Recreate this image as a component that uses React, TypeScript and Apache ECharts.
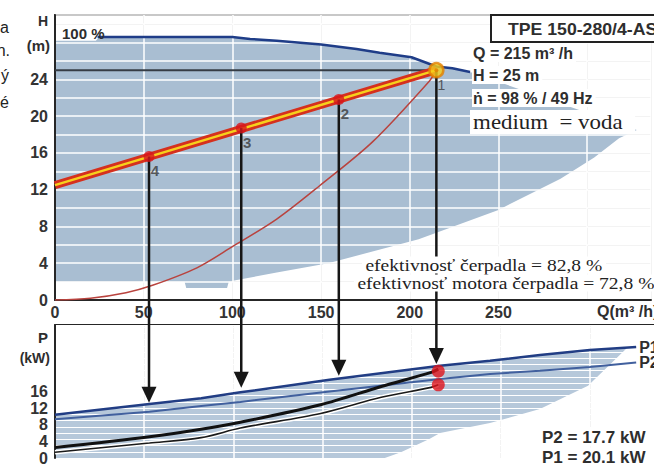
import React, { useEffect, useRef } from 'react';
import * as echarts from 'echarts';

// ---------- tick labels ----------
const qTickLabels = [0, 50, 100, 150, 200, 250];
const hTickLabels = [0, 4, 8, 12, 16, 20, 24];
const pTickLabels = [0, 4, 8, 12, 16];

// ---------- H–Q diagram ----------
const curve100 = [[24, 28.6], [100, 28.6], [110, 28.4], [125, 28.2], [150, 27.8], [170, 27.3], [183, 26.9], [201, 26.4], [215, 25.4], [224, 25.2], [234, 24.8]];
const rangeTopEdge = [[0, 28.2], [23, 28.2], [25, 28.6], [100, 28.6], [110, 28.4], [125, 28.2], [150, 27.8], [170, 27.3], [183, 26.9], [201, 26.4], [215, 25.4], [224, 25.2], [234, 24.8]];
const rangeBottomEdge = [[328, 18.5], [318, 17.6], [304, 15.5], [285, 13.2], [250, 9.8], [205, 6.6], [154, 4.0], [125, 3.0], [98, 2.0], [97, 1.3], [74, 1.3], [73, 2.0], [0, 2.0]];
const systemCurve = [[0, 12.5], [215, 25]];
const parabola = [[0, 0], [20, 0.2], [40, 0.8], [55, 1.6], [80, 3.5], [100, 5.8], [125, 8.8], [149, 12.4], [179, 17.2], [211, 23.8], [215, 25]];
const headLine = [[0, 25], [215, 25]];
const dutyNames = ['4', '3', '2', '1'];
const dutyQ = [53, 105, 160, 215];
const dutyH = [15.6, 18.7, 21.8, 25.0];

// ---------- P–Q diagram ----------
const p1Curve = [[0, 10.4], [53, 13.0], [82, 14.4], [104, 15.8], [154, 18.8], [216, 22.2], [244, 23.4], [272, 24.8], [300, 26.0], [326, 26.7]];
const p2Curve = [[0, 9.3], [53, 11.1], [82, 12.5], [104, 13.5], [154, 16.0], [216, 19.0], [244, 20.2], [272, 21.0], [300, 21.9], [326, 23.0]];
const powerUpper = [[0, 2.5], [53, 5.1], [82, 6.9], [104, 8.6], [149, 12.8], [183, 17.2], [211, 20.6], [215, 21.4]];
const powerLower = [[0, 1.4], [53, 3.6], [82, 4.9], [104, 7.2], [149, 10.7], [183, 14.6], [211, 17.0], [215, 17.6]];
const powerRangeEdge = [[321, 26.5], [299, 17.4], [272, 11.8], [244, 8.4], [216, 6.0], [210, 4.6], [194, 1.4], [185, 0], [0, 0]];
const dutyP = [20.9, 17.6];
const arrowTipP = [13.3, 16.9, 19.8, 22.6];

const SANS = '"Liberation Sans", Arial, sans-serif';
const SERIF = '"Liberation Serif", "Times New Roman", serif';
const LABEL_COLOR = '#333333';
const FILL_TOP = '#a9bed2';
const FILL_BOTTOM = '#b6c8da';
const GRAY = '#d0d0d0';

function polySeries(pts: number[][], xi: number, yi: number, color: string) {
  return {
    type: 'custom',
    xAxisIndex: xi,
    yAxisIndex: yi,
    z: 1,
    silent: true,
    data: [[0, 0]],
    renderItem: (_p: any, api: any) => ({
      type: 'polygon',
      shape: { points: pts.map((p) => api.coord(p)) },
      style: { fill: color },
    }),
  };
}

function lineSeries(data: number[][], xi: number, yi: number, color: string, width: number, z: number, extra: any = {}) {
  return {
    type: 'line',
    xAxisIndex: xi,
    yAxisIndex: yi,
    data,
    symbol: 'none',
    z,
    silent: true,
    lineStyle: { color, width },
    ...extra,
  };
}

function txt(text: string, x: number, y: number, o: any = {}) {
  const align = o.align ?? 'left';
  return {
    type: 'text',
    x,
    y,
    z: o.z ?? 20,
    scaleX: o.scaleX ?? 1,
    style: {
      text,
      fontSize: o.size ?? 16,
      fontWeight: o.weight ?? 'bold',
      fontFamily: o.family ?? SANS,
      fill: o.color ?? '#2e2e2e',
      align,
      verticalAlign: 'middle',
      textAlign: align,
      textVerticalAlign: 'middle',
      backgroundColor: o.bg,
      padding: o.pad,
    },
  };
}

const axisLabelStyle = { fontSize: 16, fontWeight: 'bold', color: LABEL_COLOR, fontFamily: SANS };
const blackLine = { show: true, onZero: false, lineStyle: { color: '#262626', width: 2 } };
const noLine = { show: false };

function buildOption() {
  const xCommon = { type: 'value', min: 0, max: 336, interval: 50, axisTick: { show: false } };
  return {
    animation: false,
    backgroundColor: '#ffffff',
    grid: [
      { left: 55, right: 0, top: 15, bottom: 166 },
      { left: 55, right: 0, top: 325, bottom: 3 },
    ],
    xAxis: [
      {
        ...xCommon, gridIndex: 0, position: 'bottom', z: 2, axisLine: blackLine,
        axisLabel: { ...axisLabelStyle, margin: 4, formatter: (v: number) => (qTickLabels.includes(v) ? String(v) : '') },
        splitLine: { show: true, lineStyle: { color: '#ffffff', width: 1.5 } },
      },
      {
        ...xCommon, gridIndex: 0, position: 'top', z: 0, axisLine: blackLine, axisLabel: { show: false },
        splitLine: { show: true, lineStyle: { color: GRAY, width: 1 } },
      },
      {
        ...xCommon, gridIndex: 1, position: 'bottom', z: 2, axisLine: noLine, axisLabel: { show: false },
        splitLine: { show: true, lineStyle: { color: '#ffffff', width: 1.5 } },
      },
      {
        ...xCommon, gridIndex: 1, position: 'top', z: 0, axisLine: blackLine, axisLabel: { show: false },
        splitLine: { show: true, lineStyle: { color: GRAY, width: 1 } },
      },
    ],
    yAxis: [
      {
        type: 'value', gridIndex: 0, min: 0, max: 31, interval: 2, position: 'left', z: 2,
        axisLine: blackLine, axisTick: { show: false },
        axisLabel: { ...axisLabelStyle, margin: 7, formatter: (v: number) => (hTickLabels.includes(v) ? String(v) : '') },
        splitLine: { show: true, lineStyle: { color: '#ffffff', width: 1.5 } },
      },
      {
        type: 'value', gridIndex: 0, min: 0, max: 31, interval: 2, position: 'right', z: 0,
        axisLine: noLine, axisTick: { show: false }, axisLabel: { show: false },
        splitLine: { show: true, lineStyle: { color: GRAY, width: 1 } },
      },
      {
        type: 'value', gridIndex: 1, min: 0, max: 32, interval: 4, position: 'left', z: 2,
        axisLine: blackLine, axisTick: { show: false },
        axisLabel: { ...axisLabelStyle, margin: 7, formatter: (v: number) => (pTickLabels.includes(v) ? String(v) : '') },
        splitLine: { show: false },
      },
      {
        type: 'value', gridIndex: 1, min: 0, max: 32, interval: 1.5, position: 'right', z: 2,
        axisLine: noLine, axisTick: { show: false }, axisLabel: { show: false },
        splitLine: { show: true, lineStyle: { color: '#ffffff', width: 1.2 } },
      },
      {
        type: 'value', gridIndex: 1, min: 0, max: 32, interval: 1.5, position: 'right', z: 0,
        axisLine: noLine, axisTick: { show: false }, axisLabel: { show: false },
        splitLine: { show: true, lineStyle: { color: GRAY, width: 1 } },
      },
    ],
    series: [
      polySeries([...rangeTopEdge, ...rangeBottomEdge], 0, 0, FILL_TOP),
      polySeries([...p1Curve.filter(([q]) => q < 321), ...powerRangeEdge], 2, 2, FILL_BOTTOM),
      lineSeries(curve100, 0, 0, '#1f3d88', 2.5, 3),
      lineSeries(headLine, 0, 0, '#363c44', 2, 3),
      lineSeries(parabola, 0, 0, '#b9433e', 1.5, 3, { smooth: 0.3 }),
      lineSeries(systemCurve, 0, 0, '#d5301e', 8, 4),
      lineSeries(systemCurve, 0, 0, '#f6d01c', 2.5, 5),
      {
        type: 'scatter', xAxisIndex: 0, yAxisIndex: 0, z: 7, silent: true,
        symbol: 'circle', symbolSize: 11,
        itemStyle: { color: '#d8151b' },
        data: dutyQ.slice(0, 3).map((q, i) => ({ value: [q, dutyH[i]], name: dutyNames[i] })),
        label: { show: true, formatter: '{b}', position: 'bottom', distance: 1, offset: [6, 0], fontSize: 15, fontWeight: 'bold', color: '#3a3a3a', fontFamily: SANS },
      },
      {
        type: 'scatter', xAxisIndex: 0, yAxisIndex: 0, z: 8, silent: true,
        symbol: 'circle', symbolSize: 14,
        itemStyle: { color: '#f5cd1a', borderColor: '#e27f00', borderWidth: 2.5 },
        data: [{ value: [dutyQ[3], dutyH[3]], name: dutyNames[3] }],
        label: { show: true, formatter: '{b}', position: 'bottom', distance: 0, offset: [5, 0], fontSize: 14, fontWeight: 'normal', color: '#3a3a3a', fontFamily: SANS },
      },
      {
        type: 'scatter', xAxisIndex: 0, yAxisIndex: 0, z: 9, silent: true,
        symbol: 'circle', symbolSize: 4,
        itemStyle: { color: '#e27f00' },
        data: [[dutyQ[3], dutyH[3]]],
      },
      lineSeries(p1Curve, 2, 2, '#213d84', 2.5, 3, {
        endLabel: { show: true, formatter: 'P1', distance: 3, fontSize: 16, fontWeight: 'bold', color: '#2e2e2e', fontFamily: SANS },
      }),
      lineSeries(p2Curve, 2, 2, '#41609e', 2, 3, {
        endLabel: { show: true, formatter: 'P2', distance: 3, fontSize: 16, fontWeight: 'bold', color: '#2e2e2e', fontFamily: SANS },
      }),
      lineSeries(powerLower, 2, 2, '#ffffff', 4.5, 3, { smooth: 0.3 }),
      lineSeries(powerLower, 2, 2, '#1a1a1a', 1.6, 4, { smooth: 0.3 }),
      lineSeries(powerUpper, 2, 2, '#111111', 3, 4, { smooth: 0.3 }),
      {
        type: 'scatter', xAxisIndex: 2, yAxisIndex: 2, z: 8, silent: true,
        symbol: 'circle', symbolSize: 13,
        itemStyle: { color: '#e0141c' },
        data: dutyP.map((p) => [dutyQ[3], p]),
      },
    ],
  };
}

function buildGraphic(chart: any) {
  const els: any[] = [];
  dutyQ.forEach((q, i) => {
    const top = chart.convertToPixel({ gridIndex: 0 }, [q, dutyH[i]]);
    const tip = chart.convertToPixel({ gridIndex: 1 }, [q, arrowTipP[i]]);
    const x = top[0];
    els.push({
      type: 'line', z: 6, silent: true,
      shape: { x1: x, y1: top[1], x2: x, y2: tip[1] - 14 },
      style: { stroke: '#161616', lineWidth: 2.5 },
    });
    els.push({
      type: 'polygon', z: 6, silent: true,
      shape: { points: [[x - 7.5, tip[1] - 16], [x + 7.5, tip[1] - 16], [x, tip[1]]] },
      style: { fill: '#161616' },
    });
  });

  // page fragments at the left edge
  els.push(txt('a', 9, 27, { align: 'right', weight: 'normal', color: '#222' }));
  els.push(txt('n.', 10, 50, { align: 'right', weight: 'normal', color: '#222' }));
  els.push(txt('ý', 9, 75, { align: 'right', weight: 'normal', color: '#222' }));
  els.push(txt('é', 9, 102, { align: 'right', weight: 'normal', color: '#222' }));

  // axis names
  els.push(txt('H', 48, 21, { align: 'right', size: 14 }));
  els.push(txt('(m)', 50, 45, { align: 'right', size: 15 }));
  els.push(txt('100 %', 62, 33, { size: 15 }));
  els.push(txt('Q(m³ /h)', 597, 311, { size: 16 }));
  els.push(txt('P', 48, 337, { align: 'right', size: 15 }));
  els.push(txt('(kW)', 50, 358, { align: 'right', size: 14 }));

  // info box
  els.push({ type: 'rect', z: 19, silent: true, shape: { x: 491, y: 15, width: 200, height: 27 }, style: { fill: '#ffffff', stroke: '#222222', lineWidth: 2 } });
  els.push(txt('TPE 150-280/4-AS', 508, 29, { size: 17, scaleX: 1.04 }));
  els.push(txt('Q = 215 m³ /h', 472, 53, { size: 16, bg: '#ffffff', pad: [1, 3, 1, 1] }));
  els.push(txt('H = 25 m', 472, 75, { size: 16, bg: '#ffffff', pad: [1, 3, 1, 1] }));
  els.push(txt('ṅ = 98 % / 49 Hz', 472, 98, { size: 16, bg: '#ffffff', pad: [1, 3, 1, 1] }));
  els.push(txt('medium  = voda', 470, 122, { size: 22, weight: 'normal', family: SERIF, color: '#222', scaleX: 1.04, bg: '#ffffff', pad: [1, 12, 1, 3] }));

  els.push(txt('efektivnosť čerpadla = 82,8 %', 362, 265, { size: 17, weight: 'normal', family: SERIF, color: '#222', scaleX: 1.15, bg: '#ffffff', pad: [0, 3] }));
  els.push(txt('efektivnosť motora čerpadla = 72,8 %', 354, 283, { size: 17, weight: 'normal', family: SERIF, color: '#222', scaleX: 1.15, bg: '#ffffff', pad: [0, 3] }));

  els.push(txt('P2 = 17.7 kW', 538, 437, { size: 17, bg: '#ffffff', pad: [1, 4] }));
  els.push(txt('P1 = 20.1 kW', 538, 457, { size: 17, bg: '#ffffff', pad: [1, 4] }));
  return els;
}

export default function App() {
  const ref = useRef<HTMLDivElement>(null);
  useEffect(() => {
    const chart = echarts.init(ref.current as HTMLDivElement, null, { renderer: 'svg' });
    chart.setOption(buildOption() as any);
    chart.setOption({ graphic: buildGraphic(chart) } as any);
    return () => chart.dispose();
  }, []);
  return (
    <div
      ref={ref}
      style={{ position: 'fixed', left: 0, top: 0, width: 654, height: 466, background: '#ffffff' }}
    />
  );
}
